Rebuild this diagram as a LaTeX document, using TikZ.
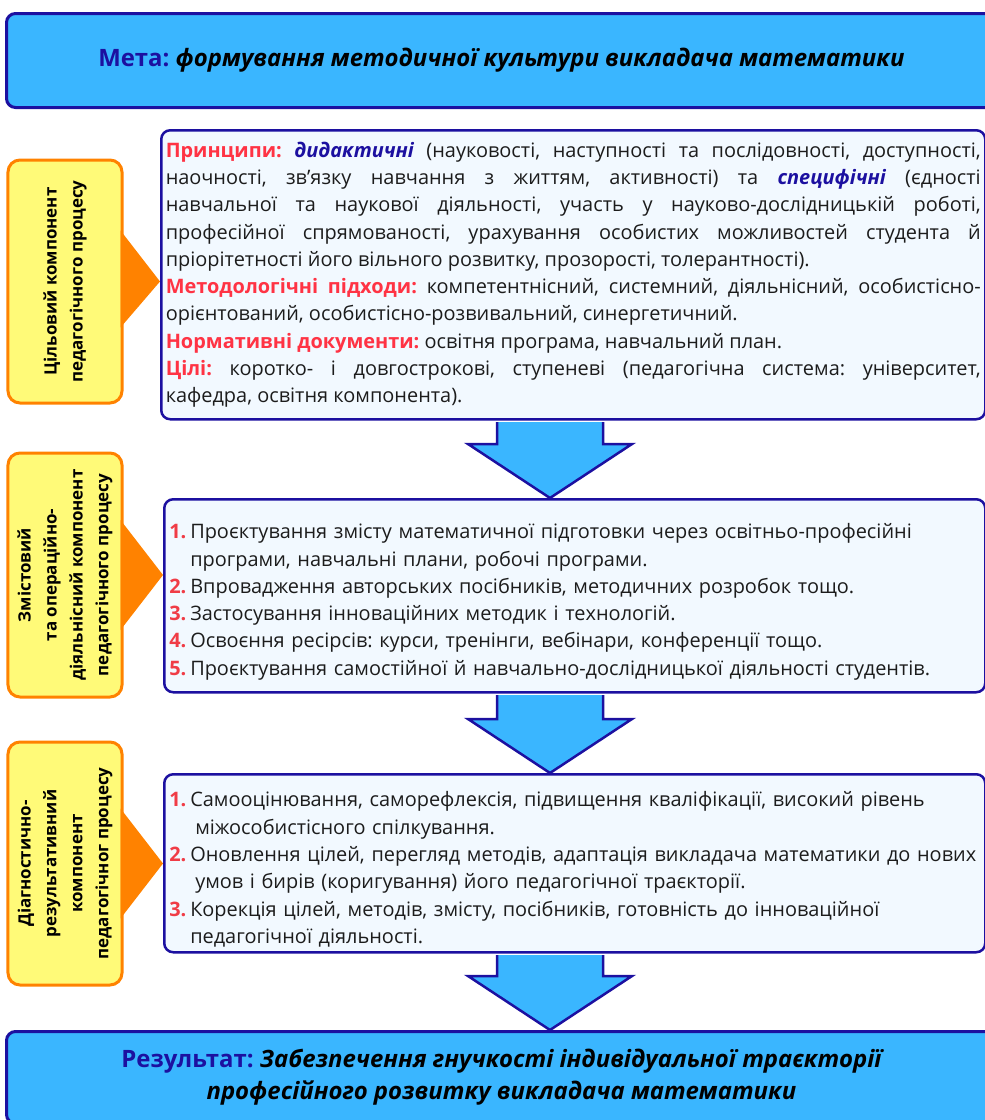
\documentclass[tikz,border=0pt]{standalone}
\usepackage{fontspec}
\setmainfont{Open Sans}
\usetikzlibrary{calc}
\setlength{\parindent}{0pt}
\frenchspacing

\definecolor{skyfill}{RGB}{58,182,255}
\definecolor{navyline}{RGB}{28,16,160}
\definecolor{paleblue}{RGB}{242,249,255}
\definecolor{orangeline}{RGB}{255,130,0}
\definecolor{lemonfill}{RGB}{255,250,120}
\definecolor{headred}{RGB}{255,51,68}
\definecolor{numred}{RGB}{240,60,70}
\definecolor{inktext}{RGB}{28,28,28}

\newcommand{\hdr}[1]{{\color{headred}\bfseries #1}}
\newcommand{\kind}[1]{{\color{navyline}\bfseries\itshape #1}}
\newcommand{\numitem}[2]{\par\hangindent=21bp\hangafter=1\noindent
  \makebox[21bp][l]{\textcolor{numred}{\bfseries #1}}#2\par}
% block arrow between two boxes
\newcommand{\blockarrow}[2]{%
  \filldraw[blockarrow] ($(axis |- #1.south)+(-53,1.5)$)
    -- ($(axis |- #2.north)+(-53,-54)$) -- ($(axis |- #2.north)+(-82,-54)$)
    -- (axis |- #2.north)
    -- ($(axis |- #2.north)+(82,-54)$) -- ($(axis |- #2.north)+(53,-54)$)
    -- ($(axis |- #1.south)+(53,1.5)$);}
% orange pointer from a side label to its box
\newcommand{\callout}[4]{%
  \fill[callout] ($(#1.south)+(-3,-#3)$) -- (#1.south -| #2.west)
    -- ($(#1.south)+(-3,#4)$) -- cycle;}

\tikzset{
  goalbox/.style={draw=navyline, line width=3bp, fill=skyfill,
    rounded corners=9bp, anchor=north west, minimum width=990bp,
    align=center, inner sep=0pt, text=black,
    font=\fontsize{24}{32}\selectfont},
  textbox/.style={draw=navyline, line width=2.5bp, fill=paleblue,
    rounded corners=9bp, anchor=north west, inner ysep=0pt,
    text=inktext, font=\fontsize{20}{27.4}\selectfont},
  sidebox/.style={draw=orangeline, line width=3bp, fill=lemonfill,
    rounded corners=12bp, rotate=90, minimum width=243bp,
    minimum height=114bp, align=center, inner sep=0pt,
    font=\fontsize{17}{26}\selectfont\bfseries},
  callout/.style={fill=orangeline},
  blockarrow/.style={draw=navyline, line width=2.5bp, fill=skyfill,
    line join=miter},
}

\begin{document}
\begin{tikzpicture}[x=1bp, y=-1bp]
    \useasboundingbox (0,0) rectangle (985,1120);
    \coordinate (axis) at (550,0);
    % goal
    \node[goalbox, minimum height=94bp] (goal) at (5,12)
        {{\color{navyline}\bfseries Мета:} {\bfseries\itshape формування методичної культури викладача математики}};
    % target component
    \node[textbox, minimum height=289bp, minimum width=824bp,
          inner xsep=4.5bp, text width=815bp, align=justify] (box1) at (160,129) {%
        \hdr{Принципи:} \kind{дидактичні} (науковості, наступності та послідовності, доступності,\linebreak
        наочності, зв’язку навчання з життям, активності) та \kind{специфічні} (єдності\linebreak
        навчальної та наукової діяльності, участь у науково-дослідницькій роботі,\linebreak
        професійної спрямованості, урахування особистих можливостей студента й\linebreak
        пріорітетності його вільного розвитку, прозорості, толерантності).\par
        \hdr{Методологічні підходи:} компетентнісний, системний, діяльнісний, особистісно-\linebreak
        орієнтований, особистісно-розвивальний, синергетичний.\par
        \hdr{Нормативні документи:} освітня програма, навчальний план.\par
        \hdr{Цілі:} коротко- і довгострокові, ступеневі (педагогічна система: університет,\linebreak
        кафедра, освітня компонента).};
    \node[sidebox] (lab1) at (65,281.5) {Цільовий компонент\\педагогічного процесу};
    \callout{lab1}{box1}{51}{46}
    % content component
    \node[textbox, minimum height=193bp, minimum width=821bp,
          inner xsep=5bp, text width=811bp, align=left] (box2) at (163,498) {%
        \numitem{1.}{Проєктування змісту математичної підготовки через освітньо-професійні\linebreak
            програми, навчальні плани, робочі програми.}
        \numitem{2.}{Впровадження авторських посібників, методичних розробок тощо.}
        \numitem{3.}{Застосування інноваційних методик і технологій.}
        \numitem{4.}{Освоєння ресірсів: курси, тренінги, вебінари, конференції тощо.}
        \numitem{5.}{Проєктування самостійної й навчально-дослідницької діяльності студентів.}};
    \node[sidebox, minimum width=244bp] (lab2) at (65,575)
        {Змістовий\\та операційно-\\діяльнісний компонент\\педагогічного процесу};
    \callout{lab2}{box2}{55}{55}
    % diagnostic component
    \node[textbox, minimum height=178bp, minimum width=821bp,
          inner xsep=5bp, text width=811bp, align=left] (box3) at (163,773) {%
        \numitem{1.}{Самооцінювання, саморефлексія, підвищення кваліфікації, високий рівень\linebreak
            \hspace*{5bp}міжособистісного спілкування.}
        \numitem{2.}{Оновлення цілей, перегляд методів, адаптація викладача математики до нових\linebreak
            \hspace*{5bp}умов і бирів (коригування) його педагогічної траєкторії.}
        \numitem{3.}{Корекція цілей, методів, змісту, посібників, готовність до інноваційної\linebreak
            педагогічної діяльності.}};
    \node[sidebox] (lab3) at (65,863.5)
        {Діагностично-\\результативний\\компонент\\педагогічног процесу};
    \callout{lab3}{box3}{55}{55}
    % result
    \node[goalbox, minimum height=92bp] (result) at (5,1030)
        {{\color{navyline}\bfseries Результат:} {\bfseries\itshape Забезпечення гнучкості індивідуальної траєкторії}\\
         {\bfseries\itshape професійного розвитку викладача математики}};
    % arrows
    \blockarrow{box1}{box2}
    \blockarrow{box2}{box3}
    \blockarrow{box3}{result}
\end{tikzpicture}
\end{document}
